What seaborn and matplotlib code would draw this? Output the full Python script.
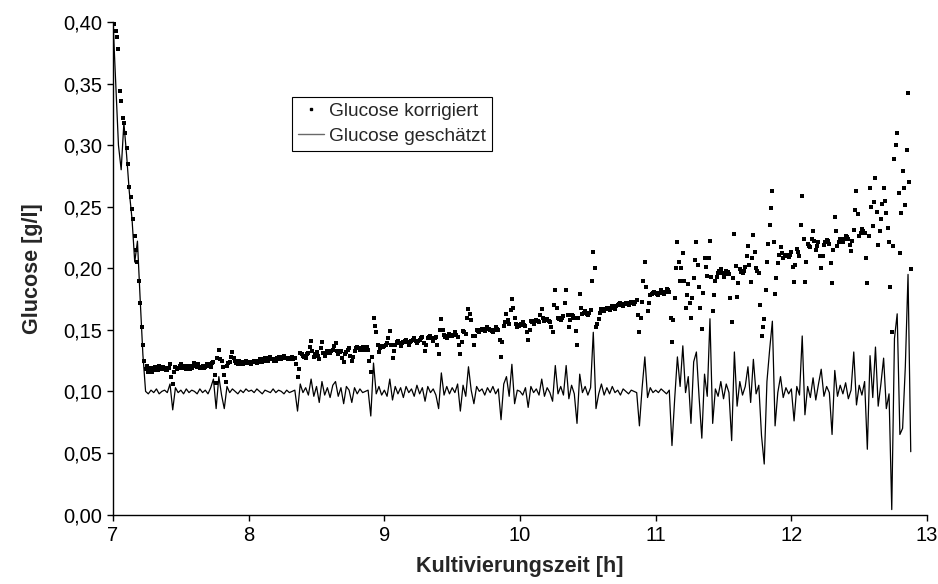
import numpy as np
import pandas as pd
import matplotlib
matplotlib.use("Agg")
import matplotlib.pyplot as plt
from matplotlib.lines import Line2D
from matplotlib.ticker import FuncFormatter, MultipleLocator
import seaborn as sns

# sampling grids: corrected values every 0.01 h, estimate every 0.02 h (7.00 h .. 12.88 h)
t_start = 7.0
korr_step = 0.01
gesch_step = 0.02

# Glucose korrigiert [g/l], one list per hour (0.01 h apart)
korr_h7 = [0.400, 0.398, 0.393, 0.388, 0.378, 0.344, 0.336, 0.322, 0.318, 0.310,
           0.298, 0.285, 0.266, 0.258, 0.248, 0.240, 0.226, 0.215, 0.205, 0.190,
           0.172, 0.152, 0.138, 0.125, 0.118, 0.121, 0.116, 0.118, 0.119, 0.116,
           0.117, 0.120, 0.118, 0.117, 0.121, 0.119, 0.118, 0.120, 0.119, 0.117,
           0.117, 0.119, 0.122, 0.112, 0.106, 0.116, 0.120, 0.118, 0.119, 0.121,
           0.122, 0.119, 0.120, 0.121, 0.118, 0.120, 0.121, 0.118, 0.119, 0.121,
           0.123, 0.121, 0.120, 0.122, 0.119, 0.120, 0.121, 0.119, 0.120, 0.122,
           0.122, 0.121, 0.120, 0.123, 0.124, 0.113, 0.107, 0.127, 0.134, 0.126,
           0.125, 0.120, 0.113, 0.108, 0.121, 0.123, 0.124, 0.128, 0.132, 0.127,
           0.125, 0.123, 0.122, 0.125, 0.124, 0.122, 0.122, 0.124, 0.125, 0.123]
korr_h8 = [0.124, 0.123, 0.122, 0.124, 0.125, 0.124, 0.123, 0.125, 0.126, 0.124,
           0.124, 0.126, 0.127, 0.125, 0.125, 0.127, 0.128, 0.126, 0.126, 0.125,
           0.125, 0.127, 0.128, 0.126, 0.126, 0.128, 0.129, 0.127, 0.127, 0.126,
           0.126, 0.127, 0.128, 0.126, 0.127, 0.122, 0.112, 0.118, 0.131, 0.130,
           0.129, 0.128, 0.127, 0.130, 0.131, 0.136, 0.141, 0.133, 0.128, 0.130,
           0.132, 0.129, 0.126, 0.135, 0.140, 0.131, 0.129, 0.131, 0.133, 0.132,
           0.131, 0.133, 0.134, 0.137, 0.139, 0.133, 0.130, 0.132, 0.133, 0.127,
           0.124, 0.130, 0.132, 0.134, 0.135, 0.129, 0.125, 0.128, 0.133, 0.135,
           0.136, 0.135, 0.134, 0.135, 0.136, 0.134, 0.135, 0.136, 0.134, 0.125,
           0.116, 0.128, 0.160, 0.153, 0.148, 0.138, 0.132, 0.135, 0.137, 0.136]
korr_h9 = [0.137, 0.138, 0.139, 0.143, 0.149, 0.138, 0.127, 0.133, 0.138, 0.140,
           0.141, 0.139, 0.137, 0.139, 0.140, 0.141, 0.142, 0.140, 0.138, 0.140,
           0.141, 0.142, 0.143, 0.141, 0.139, 0.141, 0.142, 0.143, 0.144, 0.139,
           0.133, 0.138, 0.143, 0.144, 0.145, 0.143, 0.141, 0.143, 0.144, 0.138,
           0.130, 0.150, 0.159, 0.150, 0.146, 0.144, 0.143, 0.145, 0.147, 0.146,
           0.145, 0.146, 0.148, 0.146, 0.144, 0.138, 0.130, 0.140, 0.149, 0.148,
           0.147, 0.160, 0.167, 0.163, 0.158, 0.145, 0.138, 0.145, 0.150, 0.149,
           0.148, 0.150, 0.151, 0.150, 0.149, 0.151, 0.152, 0.151, 0.150, 0.149,
           0.148, 0.150, 0.152, 0.151, 0.150, 0.142, 0.128, 0.140, 0.153, 0.156,
           0.163, 0.158, 0.155, 0.166, 0.175, 0.168, 0.160, 0.155, 0.152, 0.153]
korr_h10 = [0.154, 0.155, 0.156, 0.154, 0.153, 0.148, 0.142, 0.150, 0.157, 0.156,
            0.155, 0.157, 0.158, 0.157, 0.156, 0.162, 0.167, 0.160, 0.157, 0.158,
            0.159, 0.157, 0.156, 0.152, 0.148, 0.170, 0.182, 0.168, 0.160, 0.159,
            0.158, 0.160, 0.161, 0.172, 0.182, 0.162, 0.152, 0.158, 0.162, 0.161,
            0.160, 0.149, 0.138, 0.160, 0.179, 0.168, 0.163, 0.164, 0.165, 0.163,
            0.162, 0.164, 0.166, 0.190, 0.213, 0.200, 0.152, 0.155, 0.159, 0.164,
            0.167, 0.166, 0.165, 0.167, 0.168, 0.167, 0.166, 0.168, 0.169, 0.168,
            0.167, 0.169, 0.170, 0.171, 0.172, 0.170, 0.169, 0.171, 0.172, 0.171,
            0.170, 0.172, 0.173, 0.172, 0.171, 0.173, 0.174, 0.162, 0.148, 0.160,
            0.173, 0.190, 0.205, 0.185, 0.165, 0.172, 0.178, 0.179, 0.180, 0.181]
korr_h11 = [0.180, 0.179, 0.178, 0.180, 0.182, 0.181, 0.179, 0.181, 0.183, 0.182,
            0.181, 0.160, 0.140, 0.158, 0.176, 0.200, 0.221, 0.205, 0.190, 0.200,
            0.212, 0.190, 0.168, 0.178, 0.187, 0.172, 0.160, 0.176, 0.192, 0.207,
            0.221, 0.203, 0.185, 0.168, 0.151, 0.180, 0.208, 0.201, 0.194, 0.208,
            0.222, 0.193, 0.165, 0.178, 0.190, 0.193, 0.196, 0.198, 0.199, 0.196,
            0.193, 0.195, 0.198, 0.197, 0.195, 0.176, 0.156, 0.192, 0.228, 0.202,
            0.177, 0.188, 0.199, 0.197, 0.196, 0.198, 0.201, 0.210, 0.218, 0.203,
            0.189, 0.208, 0.227, 0.213, 0.200, 0.198, 0.196, 0.170, 0.145, 0.152,
            0.159, 0.182, 0.205, 0.220, 0.235, 0.249, 0.263, 0.221, 0.179, 0.192,
            0.204, 0.211, 0.217, 0.212, 0.208, 0.210, 0.211, 0.210, 0.209, 0.211]
korr_h12 = [0.213, 0.201, 0.189, 0.203, 0.216, 0.213, 0.210, 0.235, 0.259, 0.224,
            0.189, 0.205, 0.220, 0.218, 0.217, 0.224, 0.230, 0.222, 0.215, 0.218,
            0.221, 0.210, 0.200, 0.210, 0.219, 0.221, 0.223, 0.222, 0.220, 0.204,
            0.188, 0.215, 0.242, 0.230, 0.218, 0.221, 0.224, 0.222, 0.221, 0.224,
            0.226, 0.225, 0.224, 0.219, 0.214, 0.222, 0.231, 0.247, 0.263, 0.244,
            0.226, 0.229, 0.232, 0.230, 0.229, 0.208, 0.188, 0.226, 0.265, 0.250,
            0.234, 0.254, 0.273, 0.246, 0.219, 0.230, 0.240, 0.252, 0.265, 0.255,
            0.245, 0.233, 0.221, 0.185, 0.148, 0.218, 0.289, 0.300, 0.310, 0.261,
            0.212, 0.245, 0.279, 0.265, 0.251, 0.296, 0.342, 0.270, 0.199]

# Glucose geschaetzt [g/l], one list per hour (0.02 h apart)
gesch_h7 = [0.400, 0.350, 0.300, 0.280, 0.318, 0.292, 0.262, 0.240, 0.205, 0.222,
            0.175, 0.130, 0.100, 0.098, 0.101, 0.099, 0.102, 0.098, 0.100, 0.101,
            0.099, 0.106, 0.085, 0.103, 0.099, 0.101, 0.098, 0.102, 0.099, 0.101,
            0.100, 0.098, 0.102, 0.099, 0.101, 0.098, 0.103, 0.110, 0.086, 0.112,
            0.097, 0.086, 0.104, 0.099, 0.102, 0.100, 0.098, 0.101, 0.099, 0.102]
gesch_h8 = [0.100, 0.101, 0.099, 0.102, 0.100, 0.098, 0.101, 0.100, 0.099, 0.102,
            0.099, 0.101, 0.100, 0.098, 0.101, 0.099, 0.100, 0.101, 0.084, 0.106,
            0.099, 0.103, 0.097, 0.110, 0.096, 0.104, 0.091, 0.108, 0.097, 0.103,
            0.095, 0.105, 0.108, 0.096, 0.103, 0.090, 0.104, 0.101, 0.091, 0.103,
            0.098, 0.102, 0.099, 0.100, 0.101, 0.080, 0.123, 0.098, 0.104, 0.097]
gesch_h9 = [0.101, 0.096, 0.110, 0.093, 0.104, 0.098, 0.103, 0.095, 0.104, 0.099,
            0.102, 0.096, 0.105, 0.098, 0.103, 0.092, 0.104, 0.099, 0.102, 0.097,
            0.086, 0.115, 0.097, 0.104, 0.098, 0.103, 0.099, 0.106, 0.084, 0.105,
            0.096, 0.120, 0.101, 0.090, 0.104, 0.100, 0.102, 0.097, 0.103, 0.099,
            0.104, 0.098, 0.102, 0.077, 0.106, 0.112, 0.096, 0.122, 0.090, 0.101]
gesch_h10 = [0.100, 0.097, 0.103, 0.087, 0.104, 0.099, 0.102, 0.097, 0.110, 0.096,
             0.103, 0.099, 0.092, 0.121, 0.098, 0.104, 0.097, 0.121, 0.094, 0.105,
             0.098, 0.074, 0.114, 0.099, 0.104, 0.097, 0.103, 0.148, 0.086, 0.098,
             0.106, 0.097, 0.103, 0.098, 0.104, 0.099, 0.101, 0.097, 0.102, 0.100,
             0.098, 0.101, 0.100, 0.099, 0.072, 0.103, 0.128, 0.095, 0.103, 0.099]
gesch_h11 = [0.101, 0.099, 0.102, 0.100, 0.098, 0.101, 0.056, 0.094, 0.128, 0.104,
             0.137, 0.099, 0.112, 0.074, 0.124, 0.132, 0.095, 0.062, 0.114, 0.096,
             0.159, 0.074, 0.102, 0.096, 0.108, 0.094, 0.106, 0.099, 0.060, 0.132,
             0.088, 0.108, 0.097, 0.104, 0.120, 0.091, 0.126, 0.098, 0.105, 0.064,
             0.041, 0.108, 0.134, 0.157, 0.072, 0.099, 0.112, 0.095, 0.103, 0.098]
gesch_h12 = [0.102, 0.076, 0.104, 0.097, 0.145, 0.081, 0.104, 0.095, 0.111, 0.093,
             0.106, 0.118, 0.096, 0.104, 0.099, 0.065, 0.117, 0.096, 0.105, 0.098,
             0.107, 0.094, 0.101, 0.132, 0.089, 0.105, 0.097, 0.108, 0.053, 0.129,
             0.095, 0.136, 0.088, 0.106, 0.127, 0.086, 0.098, 0.004, 0.143, 0.163,
             0.065, 0.070, 0.120, 0.195, 0.051]

korr = korr_h7 + korr_h8 + korr_h9 + korr_h10 + korr_h11 + korr_h12
gesch = gesch_h7 + gesch_h8 + gesch_h9 + gesch_h10 + gesch_h11 + gesch_h12

df_korr = pd.DataFrame({"zeit": t_start + korr_step * np.arange(len(korr)), "glc": korr})
df_gesch = pd.DataFrame({"zeit": t_start + gesch_step * np.arange(len(gesch)), "glc": gesch})

sns.set_style("ticks")
plt.rcParams["font.family"] = ["Liberation Sans", "DejaVu Sans"]

fig, ax = plt.subplots(figsize=(9.38, 5.84), dpi=100)
fig.subplots_adjust(left=0.1205, right=0.9883, top=0.9623, bottom=0.119)

sns.scatterplot(data=df_korr, x="zeit", y="glc", ax=ax, color="black",
                s=5, linewidth=0, marker="s", zorder=2)
sns.lineplot(data=df_gesch, x="zeit", y="glc", ax=ax, color="black",
             linewidth=0.9, estimator=None, sort=False, zorder=3)

ax.set_xlim(7, 13)
ax.set_ylim(0, 0.40)
ax.xaxis.set_major_locator(MultipleLocator(1))
ax.yaxis.set_major_locator(MultipleLocator(0.05))
ax.yaxis.set_major_formatter(FuncFormatter(lambda v, p: f"{v:.2f}".replace(".", ",")))
ax.tick_params(axis="both", labelsize=14.5, length=4.5, width=1, color="black",
               labelcolor="black", direction="out")
for side in ["top", "right"]:
    ax.spines[side].set_visible(False)
for side in ["left", "bottom"]:
    ax.spines[side].set_color("black")
    ax.spines[side].set_linewidth(1)

ax.set_xlabel("Kultivierungszeit [h]", fontsize=15.5, fontweight="bold", labelpad=8)
ax.set_ylabel("Glucose [g/l]", fontsize=15.5, fontweight="bold", labelpad=14)

handles = [
    Line2D([], [], linestyle="none", marker="s", markersize=1.5, color="black",
           label="Glucose korrigiert"),
    Line2D([], [], color="dimgray", linewidth=1, label="Glucose geschätzt"),
]
leg = ax.legend(handles=handles, loc="upper left", bbox_to_anchor=(0.22, 0.848),
                fontsize=13.8, frameon=True, fancybox=False, framealpha=1,
                edgecolor="black", handlelength=1.35, handletextpad=0.3,
                borderpad=0.3, labelspacing=0.4, borderaxespad=0)
leg.get_frame().set_linewidth(0.8)

fig.savefig("out.png", dpi=100)
